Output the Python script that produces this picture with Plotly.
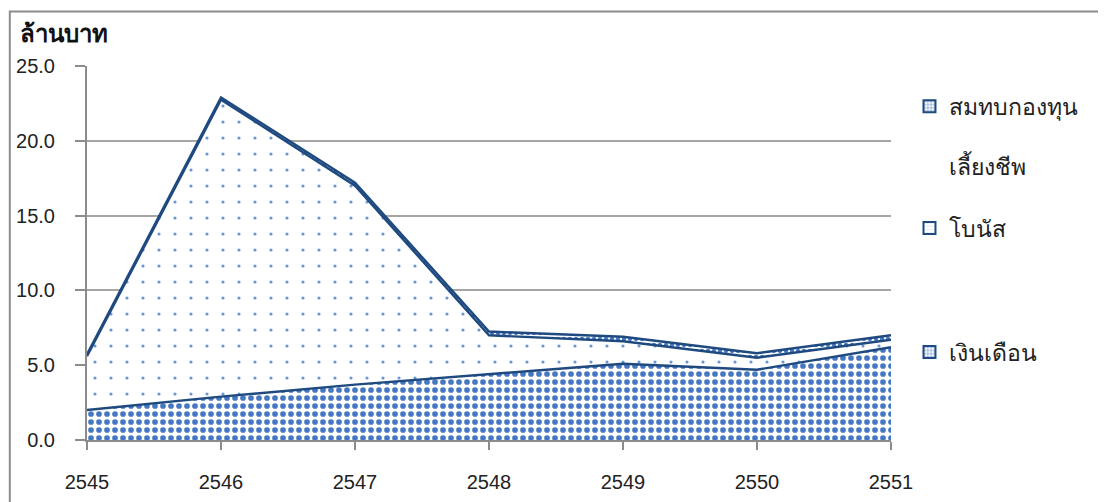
import plotly.graph_objects as go

years = [2545, 2546, 2547, 2548, 2549, 2550, 2551]
salary = [2.0, 2.9, 3.7, 4.4, 5.1, 4.7, 6.2]
bonus = [3.6, 19.85, 13.3, 2.6, 1.5, 0.8, 0.5]
fund = [0.12, 0.15, 0.2, 0.25, 0.3, 0.3, 0.3]

name_salary = "เงินเดือน"
name_bonus = "โบนัส"
name_fund = "สมทบกองทุน<br><br>เลี้ยงชีพ"

LINE = "#1f4a80"
PAT = "#4677c2"
PAT_LIGHT = "#6a95d3"
AXIS = "#8c8c8c"
FONT = "Liberation Sans, Arial, sans-serif"

pat_salary = dict(shape=".", fgcolor=PAT, bgcolor="white", size=8, solidity=0.4, fgopacity=1)
pat_bonus = dict(shape=".", fgcolor=PAT_LIGHT, bgcolor="white", size=16, solidity=0.03, fgopacity=1)
pat_fund = dict(shape=".", fgcolor=PAT, bgcolor="white", size=6, solidity=0.4, fgopacity=1)

series = [
    (name_salary, salary, pat_salary, "legend3", 0.55),
    (name_bonus, bonus, pat_bonus, "legend2", 0.1),
    (name_fund, fund, pat_fund, "legend", 0.55),
]

fig = go.Figure()
for name, vals, pat, lg, ls in series:
    fig.add_trace(go.Scatter(
        x=years, y=vals, name=name, stackgroup="one", mode="lines",
        line=dict(color=LINE, width=2.4), fillcolor="white",
        fillpattern=pat, showlegend=False, hoverinfo="x+y"))
for name, vals, pat, lg, ls in series:
    fig.add_trace(go.Bar(
        x=[None], y=[None], name=name, legend=lg, showlegend=True,
        marker=dict(color="white",
                    pattern=dict(shape=".", fgcolor=PAT, bgcolor="white", size=4, solidity=ls),
                    line=dict(color=LINE, width=2))))

legend_common = dict(
    x=1.023, xanchor="left", bgcolor="rgba(0,0,0,0)",
    font=dict(family=FONT, size=23, color="#222"), valign="top",
)
fig.update_layout(
    width=1106, height=502,
    margin=dict(l=79, r=223, t=58, b=70, autoexpand=False),
    paper_bgcolor="white", plot_bgcolor="white",
    font=dict(family=FONT, size=20, color="#222"),
    barmode="overlay",
    legend=dict(y=0.95, yanchor="top", **legend_common),
    legend2=dict(y=0.567, yanchor="middle", **legend_common),
    legend3=dict(y=0.235, yanchor="middle", **legend_common),
    xaxis=dict(
        range=[2545, 2551], tickvals=years, ticktext=[str(y) for y in years],
        showgrid=False, showline=True, linecolor=AXIS, linewidth=2,
        ticks="outside", ticklen=8, tickwidth=2, tickcolor=AXIS,
        ticklabelstandoff=15, zeroline=False, automargin=False,
    ),
    yaxis=dict(
        range=[0, 25], tickvals=[0, 5, 10, 15, 20, 25], tickformat=".1f",
        showgrid=True, gridcolor="#a6a6a6", gridwidth=1.5,
        showline=True, linecolor=AXIS, linewidth=2,
        ticks="outside", ticklen=10, tickwidth=2, tickcolor=AXIS,
        ticklabelstandoff=16, zeroline=False, automargin=False,
    ),
    shapes=[dict(type="rect", xref="paper", yref="paper",
                 x0=-0.096, x1=1.265, y0=-0.3, y1=1.146,
                 line=dict(color="#8c8c8c", width=2), fillcolor="rgba(0,0,0,0)",
                 layer="below")],
    annotations=[dict(text="<b>ล้านบาท</b>", xref="paper", yref="paper",
                      x=-0.0855, y=1.088, xanchor="left", yanchor="middle",
                      showarrow=False, font=dict(family=FONT, size=24, color="#111"))],
)

fig.write_html("out.html")
